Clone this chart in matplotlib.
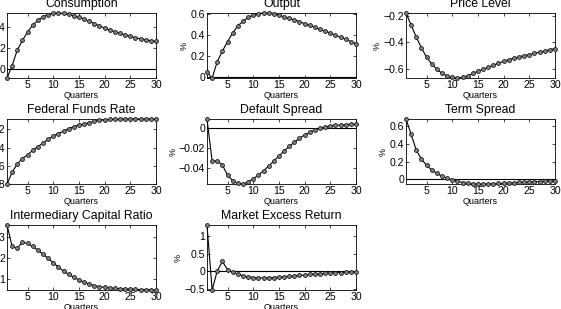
import numpy as np
import matplotlib
matplotlib.use('Agg')
import matplotlib.pyplot as plt
from matplotlib.ticker import FuncFormatter

plt.rcParams['font.family'] = ['Liberation Sans', 'DejaVu Sans']

quarters = np.arange(1, 31)

consumption = [-0.86, 0.32, 1.8, 2.7, 3.5, 4.15, 4.6, 4.95, 5.15, 5.27,
               5.3, 5.26, 5.17, 5.05, 4.9, 4.72, 4.52, 4.3, 4.08, 3.87,
               3.7, 3.53, 3.38, 3.22, 3.08, 2.96, 2.85, 2.75, 2.67, 2.6]
output = [0.05, -0.005, 0.15, 0.25, 0.34, 0.42, 0.49, 0.53, 0.57, 0.59,
          0.605, 0.61, 0.61, 0.605, 0.59, 0.575, 0.56, 0.545, 0.528, 0.51,
          0.492, 0.474, 0.456, 0.438, 0.42, 0.4, 0.38, 0.36, 0.34, 0.32]
price_level = [-0.18, -0.27, -0.36, -0.44, -0.51, -0.56, -0.6, -0.63, -0.65, -0.66,
               -0.665, -0.66, -0.65, -0.63, -0.615, -0.6, -0.585, -0.57, -0.555, -0.54,
               -0.528, -0.517, -0.507, -0.498, -0.49, -0.481, -0.472, -0.463, -0.454, -0.445]
fed_funds = [-0.8, -0.67, -0.58, -0.52, -0.48, -0.43, -0.39, -0.35, -0.31, -0.27,
             -0.245, -0.22, -0.19, -0.17, -0.15, -0.14, -0.125, -0.11, -0.1, -0.095,
             -0.09, -0.088, -0.087, -0.086, -0.085, -0.085, -0.085, -0.085, -0.085, -0.085]
default_spread = [0.0093, -0.033, -0.0327, -0.037, -0.047, -0.0527, -0.0553, -0.056, -0.054, -0.0507,
                  -0.047, -0.0427, -0.038, -0.033, -0.028, -0.0227, -0.0183, -0.014, -0.01, -0.0067,
                  -0.004, -0.0017, 0.0, 0.0013, 0.0023, 0.003, 0.0033, 0.0037, 0.004, 0.004]
term_spread = [0.685, 0.51, 0.33, 0.23, 0.158, 0.104, 0.065, 0.035, 0.012, -0.008,
               -0.025, -0.038, -0.047, -0.052, -0.055, -0.055, -0.054, -0.052, -0.049, -0.046,
               -0.043, -0.04, -0.037, -0.034, -0.031, -0.029, -0.027, -0.025, -0.023, -0.021]
capital_ratio = [3.59, 2.57, 2.49, 2.76, 2.71, 2.57, 2.39, 2.2, 2.0, 1.8,
                 1.58, 1.4, 1.24, 1.1, 0.97, 0.86, 0.78, 0.7, 0.65, 0.62,
                 0.58, 0.57, 0.55, 0.54, 0.53, 0.52, 0.51, 0.5, 0.5, 0.49]
excess_return = [1.3, -0.52, 0.02, 0.28, 0.05, -0.02, -0.085, -0.12, -0.15, -0.17,
                 -0.18, -0.18, -0.18, -0.17, -0.16, -0.15, -0.14, -0.125, -0.11, -0.1,
                 -0.085, -0.075, -0.065, -0.055, -0.045, -0.038, -0.03, -0.025, -0.02, -0.015]

# title, data, y ticks, draw zero line
panels = [
    ('Consumption', consumption, [0, 2, 4], True),
    ('Output', output, [0, 0.2, 0.4, 0.6], True),
    ('Price Level', price_level, [-0.6, -0.4, -0.2], False),
    ('Federal Funds Rate', fed_funds, [-0.8, -0.6, -0.4, -0.2], False),
    ('Default Spread', default_spread, [-0.04, -0.02, 0], True),
    ('Term Spread', term_spread, [0, 0.2, 0.4, 0.6], True),
    ('Intermediary Capital Ratio', capital_ratio, [1, 2, 3], False),
    ('Market Excess Return', excess_return, [-0.5, 0, 0.5, 1], True),
]

# matlab style labels: 0, -0.02, 1 (no trailing zeros)
fmt = FuncFormatter(lambda v, p: ('%g' % round(v, 6)).replace('-', '\u2212'))

W, H = 561, 309
fig = plt.figure(figsize=(W / 100, H / 100), dpi=100)

col_left = [7, 207, 406]
row_top = [13, 119, 225]
ax_w, ax_h = 149, 65

for i, (title, vals, yt, zero) in enumerate(panels):
    r, c = divmod(i, 3)
    left = col_left[c] / W
    bottom = 1 - (row_top[r] + ax_h) / H
    ax = fig.add_axes([left, bottom, ax_w / W, ax_h / H])
    if zero:
        ax.axhline(0, color='k', lw=0.8, zorder=1)
    ax.plot(quarters, vals, color='k', lw=0.8, marker='o', ms=2.8,
            mfc='0.5', mec='0.1', mew=0.6, zorder=3, clip_on=False)
    ax.set_xlim(1, 30)
    ax.set_ylim(min(vals), max(vals))
    ax.set_xticks([5, 10, 15, 20, 25, 30])
    ax.set_yticks(yt)
    ax.yaxis.set_major_formatter(fmt)
    ax.tick_params(direction='in', length=2.5, width=0.5, labelsize=7.6, pad=1.5,
                   top=True, right=True)
    for s in ax.spines.values():
        s.set_linewidth(0.6)
    ax.set_title(title, fontsize=8.8, pad=4)
    ax.set_xlabel('Quarters', fontsize=6.5, labelpad=0.5)
    ax.set_ylabel('%', fontsize=6.5, labelpad=1)

fig.savefig('out.png', dpi=100)
